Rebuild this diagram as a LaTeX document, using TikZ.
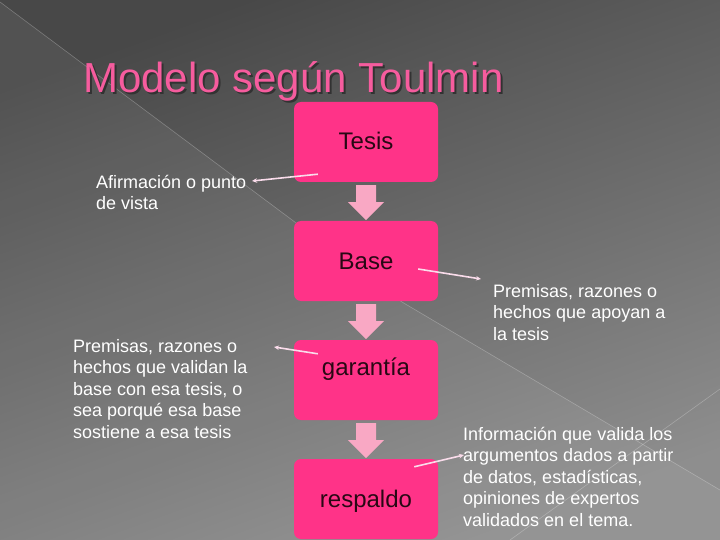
\documentclass[tikz,border=0pt]{standalone}
\usepackage{fontspec}
\setmainfont{Liberation Sans}
\usetikzlibrary{arrows.meta,calc}
\definecolor{bgtop}{RGB}{72,72,72}
\definecolor{bgbot}{RGB}{142,142,142}
\definecolor{boxpink}{RGB}{255,51,136}
\definecolor{arrowpink}{RGB}{249,168,196}
\definecolor{titlepink}{RGB}{246,92,158}
\definecolor{titleshade}{RGB}{50,50,50}
\definecolor{boxtext}{RGB}{40,8,20}
\definecolor{linepink}{RGB}{250,220,235}
\newcommand{\shadowtext}[1]{\rlap{\hspace{2pt}\raisebox{-2pt}{\textcolor{titleshade}{#1}}}#1}
\tikzset{
  modelbox/.style={draw=none,fill=boxpink,rounded corners=7pt,minimum width=144pt,minimum height=80pt,inner sep=0pt},
  boxlabel/.style={text=boxtext,font=\fontsize{24}{28}\selectfont,inner sep=0pt,anchor=base},
  sidetext/.style={text=white,font=\fontsize{18}{21.6}\selectfont,inner sep=0pt,anchor=base west,align=left},
  blockarrow/.style={fill=arrowpink,draw=none},
  callout/.style={draw=linepink,line width=1.6pt,-{Stealth[length=5pt,width=4.5pt]}},
  bgline/.style={draw=white,opacity=0.25,line width=0.6pt}
}
\begin{document}
\begin{tikzpicture}[x=1pt,y=-1pt]
\useasboundingbox (0,0) rectangle (720,540);
% background
\shade[top color=bgtop,bottom color=bgbot,shading angle=20] (0,0) rectangle (720,540);
\fill[white,opacity=0.06] (0,2) -- (402,302) -- (720,490) -- (720,540) -- (0,540) -- cycle;
\draw[bgline] (0,2) -- (402,302) -- (720,490);
\draw[bgline] (720,389) -- (510,540);
% title
\node[anchor=base west,inner sep=0pt,text=titlepink,font=\fontsize{42}{48}\selectfont] (title) at (83,93) {\shadowtext{Modelo según Toulmin}};
% boxes
\node[modelbox] (tesis) at (366,142) {};
\node[modelbox] (base) at (366,261) {};
\node[modelbox] (garantia) at (366,380) {};
\node[modelbox] (respaldo) at (366,499) {};
\node[boxlabel] (ltesis) at (366,150) {Tesis};
\node[boxlabel] (lbase) at (366,269) {Base};
\node[boxlabel] (lgarantia) at (366,375) {garantía};
\node[boxlabel] (lrespaldo) at (366,507) {respaldo};
% block arrows
\foreach \a in {tesis,base,garantia}{
  \path ($(\a.south)+(0,3)$) coordinate (t);
  \fill[blockarrow] ($(t)+(-10,0)$) -- ($(t)+(10,0)$) -- ($(t)+(10,17)$) -- ($(t)+(18,17)$)
     -- ($(t)+(0,35)$) -- ($(t)+(-18,17)$) -- ($(t)+(-10,17)$) -- cycle;
}
% side texts (anchor = baseline of last line)
\node[sidetext] (afirm) at (96,209.6) {Afirmación o punto\\de vista};
\node[sidetext] (prem1) at (493,340.2) {Premisas, razones o\\hechos que apoyan a\\la tesis};
\node[sidetext] (prem2) at (73,438.4) {Premisas, razones o\\hechos que validan la\\base con esa tesis, o\\sea porqué esa base\\sostiene a esa tesis};
\node[sidetext] (info) at (463,526.4) {Información que valida los\\argumentos dados a partir\\de datos, estadísticas,\\opiniones de expertos\\validados en el tema.};
% callout connectors
\coordinate (c1s) at ($(tesis.south west)+(24,-8)$);
\coordinate (c1e) at (252,181);
\coordinate (c2s) at ($(base.east)+(-20,8)$);
\coordinate (c2e) at (481,279);
\coordinate (c3s) at ($(garantia.north west)+(24,14)$);
\coordinate (c3e) at (274,347);
\coordinate (c4s) at ($(respaldo.north east)+(-24,8)$);
\coordinate (c4e) at (464,455);
\draw[callout] (c1s) -- (c1e);
\draw[callout] (c2s) -- (c2e);
\draw[callout] (c3s) -- (c3e);
\draw[callout] (c4s) -- (c4e);
\end{tikzpicture}
\end{document}
